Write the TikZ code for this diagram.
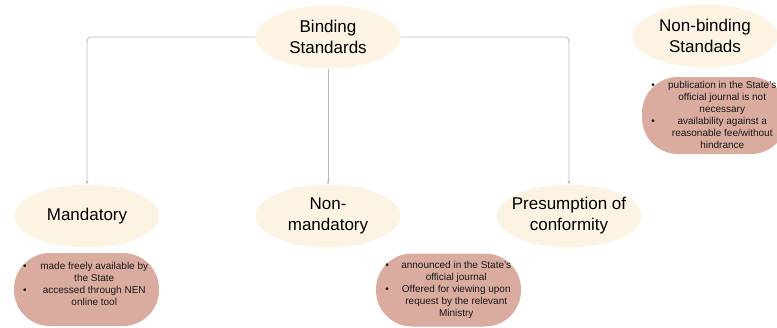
\documentclass[tikz,border=0pt]{standalone}
\usepackage{fontspec}
\setmainfont{Liberation Sans}
\usetikzlibrary{arrows.meta,shapes.geometric}
\definecolor{cream}{HTML}{FCF3E3}
\definecolor{rose}{HTML}{DAAB9F}
\definecolor{conn}{HTML}{A9BBCB}
\newcommand{\bitem}[1]{\textbullet & \parbox[t]{113bp}{\centering\strut #1\strut}}
\tikzset{
  topic/.style={ellipse, fill=cream, draw=none, minimum width=145bp, minimum height=63bp,
    inner xsep=-30bp, inner ysep=-15bp, align=center, font=\fontsize{17bp}{21bp}\selectfont},
  notebox/.style={rectangle, rounded corners=36bp, fill=rose, draw=none,
    minimum width=145bp, minimum height=73bp, inner sep=0pt},
  notetext/.style={inner sep=0pt, font=\fontsize{10bp}{12bp}\selectfont, text=black!90},
  link/.style={draw=conn, line width=0.8bp, rounded corners=4bp,
    -{Stealth[length=3.5bp,width=3bp]}}
}
\begin{document}
\begin{tikzpicture}[x=1bp,y=-1bp]
\useasboundingbox (0,0) rectangle (777,327);
\clip (0,0) rectangle (777,327);

% topic ellipses
\node[topic] (bind) at (328,37) {Binding\\Standards};
\node[topic] (nonbind) at (705,36) {Non-binding\\Standads};
\node[topic] (mand) at (87,216) {Mandatory};
\node[topic] (nonmand) at (328,216) {Non-\\mandatory};
\node[topic] (pres) at (569,216) {Presumption of\\conformity};

% note boxes
\node[notebox] (mandbox) at (86.5,289.5) {};
\node[notebox] (presbox) at (448.5,290) {};
\node[notebox, minimum height=77bp] (nonbindbox) at (714.5,115.5) {};

\node[notetext] (mandtext) at (87,285) {\begin{tabular}{@{}l@{\hspace{11bp}}l@{}}
\bitem{made freely available by\\ the State}\\
\bitem{accessed through NEN\\ online tool}
\end{tabular}};

\node[notetext] (prestext) at (449,290) {\begin{tabular}{@{}l@{\hspace{11bp}}l@{}}
\bitem{announced in the State's\\ official journal}\\
\bitem{Offered for viewing upon\\ request by the relevant\\ Ministry}
\end{tabular}};

\node[notetext] (nonbindtext) at (715,116) {\begin{tabular}{@{}l@{\hspace{11bp}}l@{}}
\bitem{publication in the State's\\ official journal is not\\ necessary}\\
\bitem{availability against a\\ reasonable fee/without\\ hindrance}
\end{tabular}};

% connectors
\draw[link] (bind.west) -| (mand.north);
\draw[link] (bind.south) -- (nonmand.north);
\draw[link] (bind.east) -| (pres.north);
\end{tikzpicture}
\end{document}
